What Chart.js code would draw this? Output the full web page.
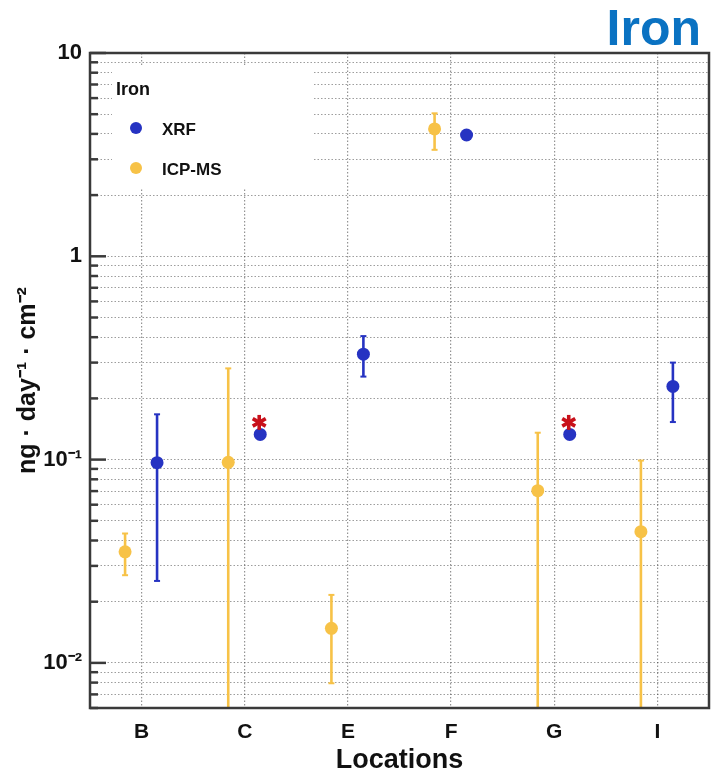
<!DOCTYPE html>
<html>
<head>
<meta charset="utf-8">
<script src="https://cdn.jsdelivr.net/npm/chart.js@4"></script>
<style>
html, body { margin: 0; padding: 0; background: #fff; }
#wrap { width: 711px; height: 777px; }
</style>
</head>
<body>
<div id="wrap"><canvas id="iron-chart" width="711" height="777"></canvas></div>
<script>
// sampling locations
const locations = ['B', 'C', 'E', 'F', 'G', 'I'];

// XRF (ng / day / cm2), with error bar ends (null = no bar)
const xrfValues = [0.0966, 0.133, 0.330, 3.95, 0.133, 0.229];
const xrfLow    = [0.0253, null, 0.256, null, null, 0.153];
const xrfHigh   = [0.167, null, 0.405, null, null, 0.300];

// ICP-MS, lower end 0 = bar runs off the bottom of the axis
const icpValues = [0.0352, 0.097, 0.0148, 4.23, 0.0703, 0.0442];
const icpLow    = [0.0270, 0, 0.00794, 3.34, 0, 0];
const icpHigh   = [0.0433, 0.281, 0.0216, 5.05, 0.1356, 0.0989];

// XRF points marked with a red asterisk
const flagged = ['C', 'G'];

// y axis decades and their labels
const yDecades = [0.01, 0.1, 1, 10];
const yDecadeLabels = ['10⁻²', '10⁻¹', '1', '10'];
const yMin = 0.006;
const yMax = 10;

const BLUE = '#2633c2';
const ORANGE = '#f7c247';
const FONT = "'Liberation Sans', Arial, Helvetica, sans-serif";

// all minor + major tick values on the log axis
let yTicks = [];
[yDecades[0] / 10].concat(yDecades).forEach(d => {
    for (let k = 1; k <= 9; k++) {
        const v = +(d * k).toPrecision(3);
        if (v >= yMin && v <= yMax && !yTicks.includes(v)) yTicks.push(v);
    }
});

function points(values, lo, hi, shift) {
    return values.map((v, i) => ({x: i + shift, y: v, lo: lo[i], hi: hi[i], loc: locations[i]}));
}

function line(ctx, x1, y1, x2, y2) {
    ctx.beginPath();
    ctx.moveTo(x1, y1);
    ctx.lineTo(x2, y2);
    ctx.stroke();
}

const errorBars = {
    id: 'errorBars',
    beforeDatasetsDraw(chart) {
        const {ctx, chartArea, scales: {x, y}} = chart;
        ctx.save();
        ctx.beginPath();
        ctx.rect(chartArea.left, chartArea.top, chartArea.width, chartArea.height);
        ctx.clip();
        chart.data.datasets.forEach(ds => {
            ctx.strokeStyle = ds.backgroundColor;
            ds.data.forEach(p => {
                if (p.lo == null || p.hi == null) return;
                const px = x.getPixelForValue(p.x);
                const top = y.getPixelForValue(p.hi);
                const open = p.lo <= y.min;
                const bot = open ? chartArea.bottom + 3 : y.getPixelForValue(p.lo);
                ctx.lineWidth = 2.6;
                line(ctx, px, top, px, bot);
                ctx.lineWidth = 2;
                line(ctx, px - 3, top, px + 3, top);
                if (!open) line(ctx, px - 3, bot, px + 3, bot);
            });
        });
        ctx.restore();
    }
};

const decorations = {
    id: 'decorations',
    afterDraw(chart) {
        const {ctx, chartArea: a, scales: {x, y}} = chart;
        ctx.save();

        // legend box inside the plot
        ctx.fillStyle = '#fff';
        ctx.fillRect(112, 67, 201, 121);
        ctx.fillStyle = '#111';
        ctx.textBaseline = 'alphabetic';
        ctx.font = 'bold 18px ' + FONT;
        ctx.fillText('Iron', 116, 95);
        ctx.font = 'bold 17px ' + FONT;
        ctx.fillText('XRF', 162, 135);
        ctx.fillText('ICP-MS', 162, 175);
        ctx.fillStyle = BLUE;
        ctx.beginPath(); ctx.arc(136, 128, 6, 0, Math.PI * 2); ctx.fill();
        ctx.fillStyle = ORANGE;
        ctx.beginPath(); ctx.arc(136, 168, 6, 0, Math.PI * 2); ctx.fill();

        // frame
        ctx.strokeStyle = '#3a3a3a';
        ctx.lineWidth = 2.5;
        ctx.strokeRect(a.left, a.top, a.width, a.height);

        // inner ticks on the y axis
        ctx.lineWidth = 2.5;
        yTicks.forEach(v => {
            const py = y.getPixelForValue(v);
            const len = yDecades.includes(v) ? 16 : 8;
            line(ctx, a.left, py, a.left + len, py);
        });

        // asterisks over flagged XRF points
        ctx.strokeStyle = '#c8101a';
        ctx.lineWidth = 3.6;
        chart.data.datasets[0].data.forEach(p => {
            if (!flagged.includes(p.loc)) return;
            const cx = x.getPixelForValue(p.x) - 1;
            const cy = y.getPixelForValue(p.y) - 12;
            for (let k = 0; k < 3; k++) {
                const ang = Math.PI / 2 + k * Math.PI / 3;
                const dx = Math.cos(ang) * 7.5, dy = Math.sin(ang) * 7.5;
                line(ctx, cx - dx, cy - dy, cx + dx, cy + dy);
            }
        });

        // corner title
        ctx.fillStyle = '#0a72c2';
        ctx.font = 'bold 50px ' + FONT;
        ctx.textAlign = 'right';
        ctx.fillText('Iron', 701, 45);
        ctx.restore();
    }
};

const ctx = document.getElementById('iron-chart').getContext('2d');

const chart = new Chart(ctx, {
    type: 'scatter',
    data: {
        datasets: [
            {
                label: 'XRF',
                data: points(xrfValues, xrfLow, xrfHigh, 0.15),
                backgroundColor: BLUE,
                borderWidth: 0,
                pointRadius: 6.5,
            },
            {
                label: 'ICP-MS',
                data: points(icpValues, icpLow, icpHigh, -0.16),
                backgroundColor: ORANGE,
                borderWidth: 0,
                pointRadius: 6.5,
            },
        ],
    },
    options: {
        responsive: false,
        animation: false,
        layout: {autoPadding: false, padding: {top: 53, right: 2, left: 0, bottom: 0}},
        plugins: {
            legend: {display: false},
            tooltip: {enabled: false},
        },
        scales: {
            x: {
                type: 'linear',
                min: -0.5,
                max: 5.5,
                afterBuildTicks: s => { s.ticks = locations.map((_, i) => ({value: i})); },
                afterFit: s => { s.height = 69; s.paddingLeft = 0; s.paddingRight = 0; },
                ticks: {
                    autoSkip: false,
                    maxRotation: 0,
                    padding: 12,
                    color: '#111',
                    font: {family: FONT, size: 21, weight: 'bold'},
                    callback: v => locations[v],
                },
                grid: {color: 'rgba(60,60,60,0.55)', lineWidth: 1.2, drawTicks: false},
                border: {display: false, dash: [1.5, 2]},
                title: {
                    display: true,
                    text: 'Locations',
                    color: '#111',
                    font: {family: FONT, size: 27, weight: 'bold'},
                    padding: {top: 0, bottom: 0},
                },
            },
            y: {
                type: 'logarithmic',
                min: yMin,
                max: yMax,
                afterBuildTicks: s => { s.ticks = yTicks.map(v => ({value: v})); },
                afterFit: s => { s.width = 90; s.paddingTop = 0; s.paddingBottom = 0; },
                ticks: {
                    autoSkip: false,
                    padding: 8,
                    color: '#111',
                    font: {family: FONT, size: 22, weight: 'bold'},
                    callback: v => {
                        const i = yDecades.indexOf(v);
                        return i >= 0 ? yDecadeLabels[i] : '';
                    },
                },
                grid: {color: 'rgba(60,60,60,0.5)', lineWidth: 1, drawTicks: false},
                border: {display: false, dash: [1.5, 2]},
                title: {
                    display: true,
                    text: 'ng · day⁻¹ · cm⁻²',
                    color: '#111',
                    font: {family: FONT, size: 25, weight: 'bold'},
                    padding: {top: 13, bottom: 0},
                },
            },
        },
    },
    plugins: [errorBars, decorations],
});
</script>
</body>
</html>
